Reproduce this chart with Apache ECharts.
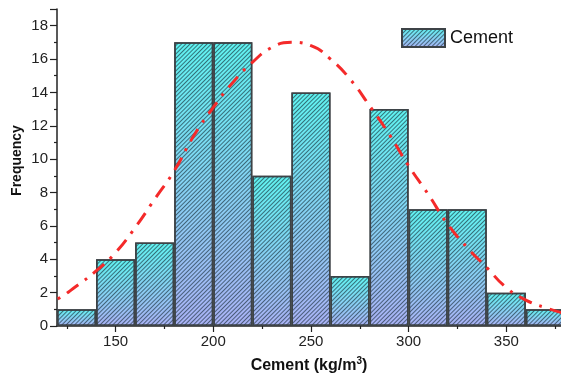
<!DOCTYPE html>
<html>
<head>
<meta charset="utf-8">
<script src="https://cdn.jsdelivr.net/npm/echarts@6/dist/echarts.min.js"></script>
<style>
  html, body { margin: 0; padding: 0; background: #fff; }
  #chart { width: 561px; height: 375px; }
</style>
</head>
<body>
<div id="chart"></div>
<script>
// histogram bins (left edges, width 20) and counts
var binStarts = [120, 140, 160, 180, 200, 220, 240, 260, 280, 300, 320, 340, 360]
var binWidth = 20
var counts = [1, 4, 5, 17, 17, 9, 14, 3, 13, 7, 7, 2, 1]

// normal fit curve
var curveX = [110, 120, 130, 140, 150, 160, 170, 180, 190, 200, 210, 220, 230, 240, 250, 260, 270, 280, 290, 300, 310, 320, 330, 340, 350, 360, 370, 380]
var curveY = [1.1, 1.6, 2.4, 3.3, 4.4, 5.9, 7.6, 9.3, 11.4, 13.1, 14.6, 15.8, 16.7, 17.0, 16.8, 16.0, 14.8, 13.2, 11.5, 9.6, 7.9, 6.1, 4.7, 3.5, 2.3, 1.55, 1.1, 0.75]

var xMajor = [150, 200, 250, 300, 350]
var xMinor = [125, 175, 225, 275, 325, 375]

var barData = binStarts.map(function (s, i) {
  return [s + binWidth / 2, counts[i]]
})
var curveData = curveX.map(function (x, i) {
  return [x, curveY[i]]
})

var mychart = echarts.init(document.getElementById('chart'))
var axisColor = '#222'
var font = 'Liberation Sans, Arial, sans-serif'

var option = {
  animation: false,
  textStyle: { fontFamily: font },
  grid: { left: 57, right: 0, top: 9, bottom: 49, containLabel: false, outerBoundsMode: 'none' },
  legend: {
    data: ['Cement'],
    left: 401,
    top: 28,
    padding: 0,
    icon: 'rect',
    itemWidth: 43,
    itemHeight: 18,
    itemGap: 6,
    textStyle: { fontSize: 18, color: '#111', fontFamily: font }
  },
  xAxis: [{
    type: 'value',
    min: 120,
    max: 378,
    name: 'Cement (kg/m{sup|3})',
    nameLocation: 'middle',
    nameGap: 30,
    nameMoveOverlap: false,
    nameTextStyle: {
      fontSize: 16,
      fontWeight: 'bold',
      color: '#111',
      fontFamily: font,
      rich: {
        sup: { fontSize: 10, fontWeight: 'bold', verticalAlign: 'top', padding: [0, 0, 9, 0], color: '#111' }
      }
    },
    axisLine: { show: true, onZero: false, lineStyle: { color: axisColor, width: 1.5 } },
    axisTick: { show: true, customValues: xMajor, length: 6, lineStyle: { color: axisColor, width: 1.2 } },
    axisLabel: { customValues: xMajor, fontSize: 15, color: '#222', margin: 8 },
    splitLine: { show: false }
  }, {
    // minor ticks only
    type: 'value',
    min: 120,
    max: 378,
    position: 'bottom',
    axisLine: { show: false },
    axisTick: { show: true, customValues: xMinor, length: 3, lineStyle: { color: axisColor, width: 1.2 } },
    axisLabel: { show: false },
    splitLine: { show: false }
  }],
  yAxis: {
    type: 'value',
    min: 0,
    max: 19,
    interval: 2,
    name: 'Frequency',
    nameLocation: 'middle',
    nameGap: 33,
    nameMoveOverlap: false,
    nameTextStyle: { fontSize: 14, fontWeight: 'bold', color: '#111', fontFamily: font, padding: [0, 0, 0, 14] },
    axisLine: { show: true, lineStyle: { color: axisColor, width: 1.5 } },
    axisTick: { show: true, length: 7, lineStyle: { color: axisColor, width: 1.2 } },
    minorTick: { show: true, splitNumber: 2, length: 3, lineStyle: { color: axisColor, width: 1.2 } },
    axisLabel: { fontSize: 15, color: '#222', margin: 9, showMaxLabel: false },
    splitLine: { show: false }
  },
  series: [{
    type: 'bar',
    name: 'Cement',
    data: barData,
    barWidth: '100%',
    barGap: '-100%',
    clip: true,
    itemStyle: {
      color: {
        type: 'linear',
        x: 0, y: 0, x2: 0, y2: 1,
        colorStops: [
          { offset: 0, color: '#5ff2f0' },
          { offset: 1, color: '#a9b1f4' }
        ],
        global: false
      },
      borderColor: '#3d4347',
      borderWidth: 1.5,
      decal: {
        symbol: 'rect',
        symbolSize: 1,
        dashArrayX: [1, 0],
        dashArrayY: [1, 2],
        rotation: -Math.PI / 4,
        color: 'rgba(20, 40, 50, 0.62)'
      }
    }
  }, {
    type: 'line',
    name: 'fit',
    data: curveData,
    smooth: true,
    showSymbol: false,
    clip: true,
    z: 5,
    lineStyle: { color: '#f42a2a', width: 3, type: [14, 8, 3, 8] }
  }]
}
mychart.setOption(option)
</script>
</body>
</html>
